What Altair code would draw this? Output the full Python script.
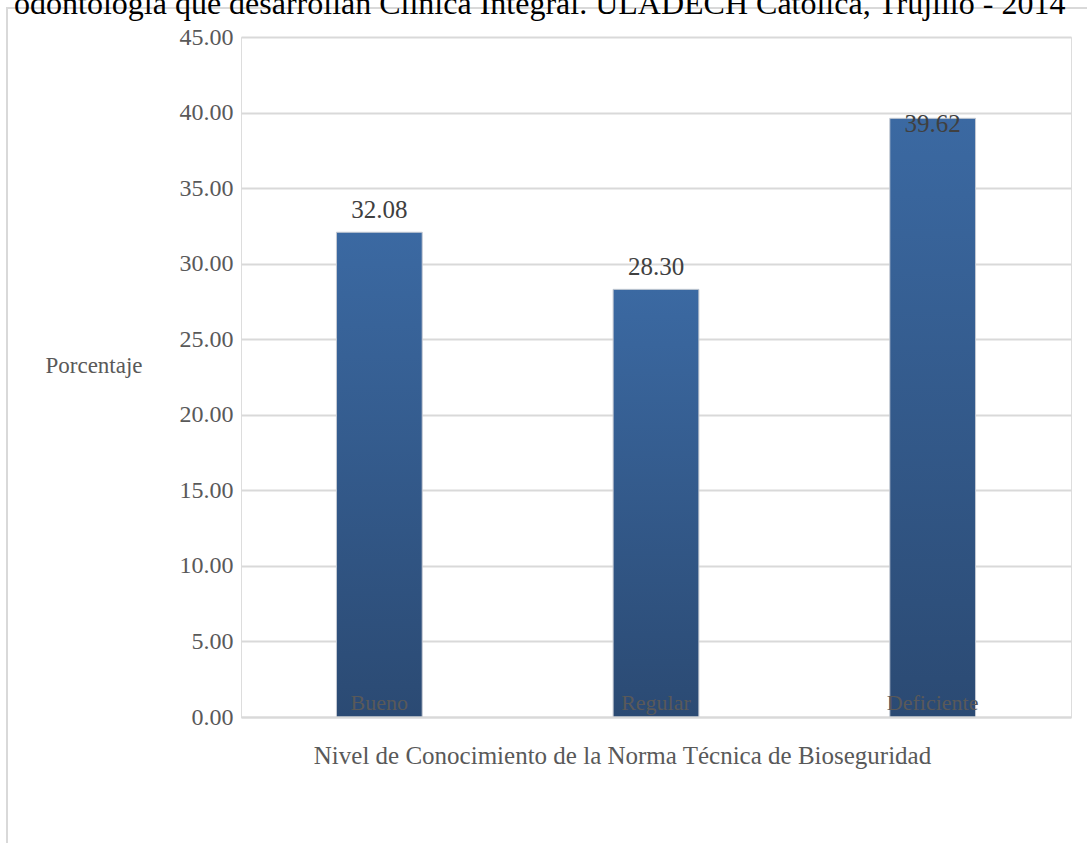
import altair as alt
import pandas as pd

categories = ["Bueno", "Regular", "Deficiente"]
values = [32.08, 28.30, 39.62]
value_labels = ["32.08", "28.30", "39.62"]
title_text = ["odontología que desarrollan Clínica Integral. ULADECH Católica, Trujillo - 2014"]

df = pd.DataFrame({"nivel": categories, "pct": values, "lbl": value_labels})
df_title = pd.DataFrame({"t": title_text})

FONT = "Liberation Serif"
W, H = 830, 680

x_enc = alt.X(
    "nivel:N",
    sort=categories,
    scale=alt.Scale(paddingInner=0.69, paddingOuter=0.345),
    axis=alt.Axis(
        title="Nivel de Conocimiento de la Norma Técnica de Bioseguridad",
        titleFont=FONT, titleFontSize=25, titleFontWeight="normal", titleColor="#595959",
        titlePadding=26, titleX=381, titleBaseline="top",
        labelFont=FONT, labelFontSize=22, labelColor="#595959", labelPadding=-25,
        labelAngle=0, ticks=False, domain=True, domainColor="#d9d9d9", domainWidth=2,
        zindex=1,
    ),
)

bars = alt.Chart(df).mark_bar(
    color=alt.Gradient(
        gradient="linear",
        stops=[alt.GradientStop(color="#3b69a2", offset=0),
               alt.GradientStop(color="#2b4a73", offset=1)],
        x1=0, x2=0, y1=0, y2=1,
    ),
    stroke="#c5cad3", strokeWidth=1,
).encode(
    x=x_enc,
    y=alt.Y(
        "pct:Q",
        scale=alt.Scale(domain=[0, 45], nice=False),
        axis=alt.Axis(
            values=[0, 5, 10, 15, 20, 25, 30, 35, 40, 45],
            format=".2f",
            title="Porcentaje", titleAngle=0, titleX=-196, titleY=H / 2 - 12,
            titleAlign="left", titleBaseline="middle",
            titleFont=FONT, titleFontSize=23, titleFontWeight="normal", titleColor="#595959",
            labelFont=FONT, labelFontSize=24, labelColor="#595959", labelPadding=8,
            ticks=False, domain=False, gridColor="#d9d9d9", gridWidth=2,
        ),
    ),
)

labels = alt.Chart(df).transform_calculate(
    ly="min(datum.pct, 37.8)"
).mark_text(
    font=FONT, fontSize=25, color="#404040", baseline="middle", dy=-22
).encode(
    x=alt.X("nivel:N", sort=categories),
    y=alt.Y("ly:Q"),
    text="lbl:N",
)

frame = alt.Chart(df).mark_rect(
    fill=None, stroke="#d9d9d9", strokeWidth=2
).encode(
    x=alt.value(-234), x2=alt.value(W + 200),
    y=alt.value(-29), y2=alt.value(H + 300),
)

title = alt.Chart(df_title).mark_text(
    font=FONT, fontSize=32, color="#000000", align="left", baseline="alphabetic"
).encode(
    text="t:N", x=alt.value(-227), y=alt.value(-23),
)

chart = alt.layer(frame, bars, labels, title).properties(
    width=W, height=H,
    autosize=alt.AutoSizeParams(type="none"),
    padding={"left": 241, "top": 37, "right": 16, "bottom": 126},
).configure_view(stroke=None).configure(background="white")

chart.save("out.html", embed_options={"renderer": "svg", "actions": False})
